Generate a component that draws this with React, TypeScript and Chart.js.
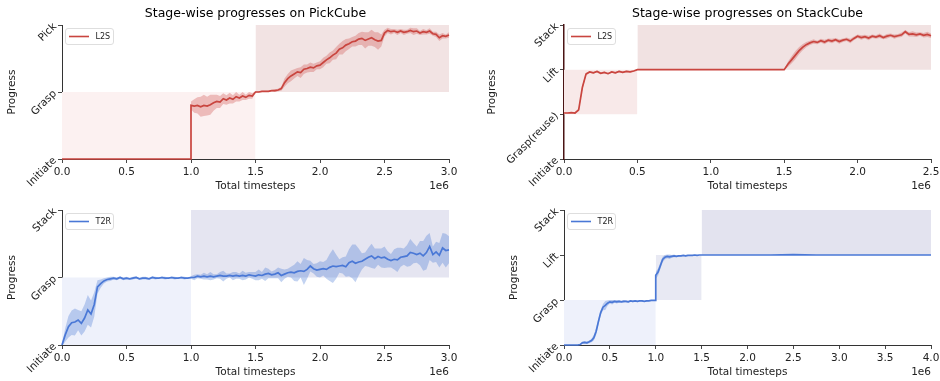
import { useEffect, useRef } from 'react';
import { Chart, registerables } from 'chart.js';

Chart.register(...registerables);

// ---------------- data (x in units of 1e6 timesteps) ----------------
const pickL2SStages = ['Initiate', 'Grasp', 'Pick'];
const stackL2SStages = ['Initiate', 'Grasp(reuse)', 'Lift', 'Stack'];
const pickT2RStages = ['Initiate', 'Grasp', 'Stack'];
const stackT2RStages = ['Initiate', 'Grasp', 'Lift', 'Stack'];

// stage regions: [xStart, xEnd, yLow, yHigh]
const pickL2SRegions = [[0, 1.5, 0, 1], [1.5, 3.0, 1, 2]];
const stackL2SRegions = [[0, 0.5, 1, 2], [0.5, 2.5, 2, 3]];
const pickT2RRegions = [[0, 1.0, 0, 1], [1.0, 3.0, 1, 2]];
const stackT2RRegions = [[0, 1.0, 0, 1], [1.0, 1.5, 1, 2], [1.5, 4.0, 2, 3]];

// PickCube / L2S
const pickL2SIdle = [0, 0]; // start 0, step 1.0
const pickL2SMean = [ // start 1.0, step 0.025
  0.80, 0.79, 0.80, 0.78, 0.80, 0.79, 0.81, 0.84, 0.86, 0.85,
  0.90, 0.88, 0.91, 0.89, 0.93, 0.91, 0.94, 0.92, 0.95, 0.94,
  1.00, 1.00, 1.01, 1.01, 1.01, 1.02, 1.02, 1.03, 1.05, 1.14,
  1.20, 1.24, 1.27, 1.30, 1.29, 1.34, 1.35, 1.37, 1.36, 1.39,
  1.40, 1.44, 1.48, 1.51, 1.55, 1.58, 1.64, 1.66, 1.70, 1.72,
  1.75, 1.76, 1.79, 1.80, 1.77, 1.79, 1.81, 1.78, 1.76, 1.77,
  1.88, 1.92, 1.90, 1.91, 1.89, 1.91, 1.89, 1.90, 1.92, 1.90,
  1.91, 1.88, 1.90, 1.89, 1.91, 1.87, 1.86, 1.81, 1.84, 1.83,
  1.85,
];
const pickL2SSpread = [
  0.06, 0.10, 0.12, 0.15, 0.16, 0.14, 0.15, 0.12, 0.10, 0.09,
  0.08, 0.07, 0.08, 0.06, 0.07, 0.05, 0.06, 0.04, 0.05, 0.04,
  0.01, 0.01, 0.01, 0.01, 0.01, 0.01, 0.02, 0.02, 0.03, 0.06,
  0.07, 0.08, 0.07, 0.06, 0.08, 0.07, 0.06, 0.07, 0.06, 0.05,
  0.06, 0.07, 0.06, 0.08, 0.07, 0.09, 0.08, 0.10, 0.09, 0.08,
  0.07, 0.08, 0.09, 0.10, 0.12, 0.10, 0.12, 0.11, 0.13, 0.09,
  0.05, 0.04, 0.04, 0.03, 0.04, 0.03, 0.04, 0.03, 0.04, 0.05,
  0.04, 0.03, 0.04, 0.03, 0.04, 0.03, 0.04, 0.05, 0.04, 0.03,
  0.04,
];

// StackCube / L2S
const stackL2SEarlyMean = [ // start 0, step 0.025
  1.03, 1.03, 1.04, 1.03, 1.10, 1.60, 1.90, 1.95, 1.93, 1.96,
  1.92, 1.94, 1.91, 1.95, 1.93, 1.96, 1.94, 1.96, 1.95, 1.97,
  2.00,
];
const stackL2SEarlySpread = [
  0.01, 0.01, 0.01, 0.01, 0.03, 0.05, 0.03, 0.02, 0.02, 0.02,
  0.02, 0.02, 0.02, 0.02, 0.02, 0.02, 0.02, 0.02, 0.02, 0.01,
  0.00,
];
const stackL2SLateMean = [ // start 1.5, step 0.025
  2.00, 2.12, 2.22, 2.32, 2.42, 2.50, 2.56, 2.60, 2.63, 2.61,
  2.65, 2.62, 2.66, 2.64, 2.67, 2.63, 2.66, 2.68, 2.64, 2.70,
  2.75, 2.72, 2.74, 2.71, 2.75, 2.73, 2.76, 2.72, 2.75, 2.77,
  2.74, 2.76, 2.78, 2.85, 2.79, 2.80, 2.78, 2.80, 2.77, 2.79,
  2.76,
];
const stackL2SLateSpread = [
  0.00, 0.06, 0.08, 0.09, 0.08, 0.07, 0.06, 0.05, 0.05, 0.04,
  0.04, 0.05, 0.04, 0.05, 0.04, 0.05, 0.04, 0.04, 0.05, 0.04,
  0.04, 0.05, 0.04, 0.05, 0.04, 0.04, 0.05, 0.04, 0.05, 0.04,
  0.05, 0.04, 0.05, 0.04, 0.05, 0.06, 0.05, 0.04, 0.05, 0.06,
  0.05,
];

// PickCube / T2R
const pickT2RMean = [ // start 0, step 0.025
  0.00, 0.15, 0.27, 0.33, 0.34, 0.37, 0.32, 0.40, 0.52, 0.46,
  0.60, 0.86, 0.91, 0.95, 0.97, 0.98, 0.99, 0.98, 1.00, 0.98,
  0.99, 0.98, 0.99, 1.00, 0.98, 0.99, 0.99, 0.98, 1.00, 0.99,
  0.99, 1.00, 0.99, 0.99, 1.00, 0.99, 0.99, 1.00, 0.99, 0.99,
  1.00, 1.00, 1.02, 1.01, 1.02, 1.01, 1.02, 1.01, 1.02, 1.03,
  1.02, 1.02, 1.03, 1.02, 1.03, 1.02, 1.03, 1.02, 1.04, 1.03,
  1.02, 1.04, 1.03, 1.05, 1.06, 1.04, 1.05, 1.07, 1.03, 1.05,
  1.07, 1.08, 1.07, 1.09, 1.10, 1.09, 1.12, 1.17, 1.13, 1.11,
  1.12, 1.13, 1.12, 1.15, 1.17, 1.16, 1.17, 1.18, 1.16, 1.22,
  1.24, 1.21, 1.23, 1.24, 1.27, 1.30, 1.32, 1.28, 1.31, 1.29,
  1.30, 1.27, 1.25, 1.27, 1.26, 1.30, 1.31, 1.32, 1.37, 1.36,
  1.34, 1.36, 1.32, 1.37, 1.46, 1.34, 1.38, 1.33, 1.44, 1.40,
  1.41,
];
const pickT2RSpread = [
  0.02, 0.10, 0.16, 0.18, 0.20, 0.15, 0.18, 0.20, 0.22, 0.20,
  0.18, 0.10, 0.06, 0.04, 0.03, 0.03, 0.02, 0.02, 0.02, 0.02,
  0.02, 0.01, 0.02, 0.02, 0.01, 0.02, 0.02, 0.01, 0.02, 0.02,
  0.01, 0.02, 0.02, 0.01, 0.02, 0.02, 0.01, 0.02, 0.02, 0.01,
  0.02, 0.04, 0.03, 0.03, 0.05, 0.04, 0.06, 0.04, 0.03, 0.05,
  0.08, 0.04, 0.03, 0.06, 0.05, 0.04, 0.07, 0.05, 0.04, 0.05,
  0.06, 0.08, 0.05, 0.10, 0.07, 0.05, 0.06, 0.08, 0.10, 0.07,
  0.06, 0.08, 0.12, 0.15, 0.10, 0.20, 0.14, 0.08, 0.07, 0.10,
  0.12, 0.10, 0.14, 0.20, 0.25, 0.18, 0.10, 0.12, 0.15, 0.20,
  0.25, 0.28, 0.20, 0.12, 0.10, 0.14, 0.18, 0.15, 0.12, 0.14,
  0.16, 0.12, 0.10, 0.15, 0.18, 0.14, 0.12, 0.16, 0.20, 0.15,
  0.12, 0.18, 0.22, 0.25, 0.20, 0.12, 0.15, 0.18, 0.22, 0.25,
  0.20,
];

// StackCube / T2R
const stackT2RGraspMean = [ // start 0, step 0.025
  0.00, 0.00, 0.00, 0.00, 0.00, 0.00, 0.00, 0.01, 0.05, 0.06,
  0.05, 0.07, 0.10, 0.16, 0.30, 0.52, 0.72, 0.84, 0.88, 0.93,
  0.96, 0.95, 0.97, 0.96, 0.97, 0.96, 0.97, 0.97, 0.96, 0.98,
  0.97, 0.98, 0.97, 0.98, 0.98, 0.97, 0.98, 0.98, 0.99, 0.99,
  0.99,
];
const stackT2RGraspSpread = [
  0.00, 0.00, 0.00, 0.00, 0.00, 0.00, 0.00, 0.01, 0.03, 0.03,
  0.03, 0.03, 0.04, 0.06, 0.08, 0.08, 0.06, 0.07, 0.10, 0.06,
  0.04, 0.05, 0.03, 0.04, 0.03, 0.02, 0.03, 0.02, 0.02, 0.02,
  0.02, 0.02, 0.02, 0.01, 0.02, 0.01, 0.02, 0.01, 0.01, 0.01,
  0.01,
];
const stackT2RLiftMean = [ // start 1.0, step 0.025
  1.55, 1.62, 1.76, 1.90, 1.95, 1.97, 1.96, 1.97, 1.98, 1.97,
  1.98, 1.98, 1.99, 1.98, 1.99, 1.99, 1.99, 2.00, 1.99, 2.00,
  2.00,
];
const stackT2RLiftSpread = [
  0.08, 0.08, 0.07, 0.06, 0.05, 0.04, 0.05, 0.03, 0.03, 0.02,
  0.02, 0.02, 0.01, 0.02, 0.01, 0.01, 0.01, 0.01, 0.01, 0.00,
  0.00,
];
const stackT2RStackMean = [ // start 1.5, step 0.25
  2.00, 2.00, 2.00, 2.00, 2.01, 2.00, 2.00, 2.00, 2.00, 2.00, 2.00,
];

// ---------------- styles ----------------
const FONT = '"DejaVu Sans", "Liberation Sans", sans-serif';
const RED = '#c9453f';
const RED_BAND = 'rgba(205, 80, 75, 0.33)';
const BLUE = '#4a78d6';
const BLUE_BAND = 'rgba(74, 120, 214, 0.33)';
const AXIS = '#333333';

type Segment = { start: number; step: number; mean: number[]; spread?: number[] };
type PanelCfg = {
  left: number; top: number; width: number; height: number;
  pad: { left: number; right: number; top: number; bottom: number };
  yAxisWidth: number; xAxisHeight: number; yTitlePad: number;
  title?: string; label: string; color: string; bandColor: string;
  xMax: number; stages: string[]; regions: number[][]; regionColors: string[];
  segments: Segment[]; ySpineColor?: string;
};

const panels: PanelCfg[] = [
  {
    left: 0, top: 0, width: 470, height: 195,
    pad: { left: 0, right: 21, top: 25, bottom: 0 }, yAxisWidth: 62, xAxisHeight: 36, yTitlePad: 6,
    title: 'Stage-wise progresses on PickCube', label: 'L2S', color: RED, bandColor: RED_BAND,
    xMax: 3, stages: pickL2SStages, regions: pickL2SRegions, regionColors: ['#fcf1f1', '#f2e3e3'],
    segments: [
      { start: 0, step: 1.0, mean: pickL2SIdle },
      { start: 1.0, step: 0.025, mean: pickL2SMean, spread: pickL2SSpread },
    ],
  },
  {
    left: 470, top: 0, width: 470, height: 195,
    pad: { left: 0, right: 9, top: 25, bottom: 0 }, yAxisWidth: 94, xAxisHeight: 36, yTitlePad: 16,
    title: 'Stage-wise progresses on StackCube', label: 'L2S', color: RED, bandColor: RED_BAND,
    xMax: 2.5, stages: stackL2SStages, regions: stackL2SRegions, regionColors: ['#f8e9e9', '#f1e2e2'],
    segments: [
      { start: 0, step: 0.025, mean: stackL2SEarlyMean, spread: stackL2SEarlySpread },
      { start: 1.5, step: 0.025, mean: stackL2SLateMean, spread: stackL2SLateSpread },
    ],
    ySpineColor: '#4a1414',
  },
  {
    left: 0, top: 195, width: 470, height: 186,
    pad: { left: 0, right: 21, top: 15, bottom: 0 }, yAxisWidth: 62, xAxisHeight: 36, yTitlePad: 6,
    label: 'T2R', color: BLUE, bandColor: BLUE_BAND,
    xMax: 3, stages: pickT2RStages, regions: pickT2RRegions, regionColors: ['#eef1fb', '#e5e5f1'],
    segments: [
      { start: 0, step: 0.025, mean: pickT2RMean, spread: pickT2RSpread },
    ],
  },
  {
    left: 470, top: 195, width: 470, height: 186,
    pad: { left: 0, right: 9, top: 15, bottom: 0 }, yAxisWidth: 94, xAxisHeight: 36, yTitlePad: 38,
    label: 'T2R', color: BLUE, bandColor: BLUE_BAND,
    xMax: 4, stages: stackT2RStages, regions: stackT2RRegions, regionColors: ['#eef1fb', '#e8e9f3', '#e3e3ef'],
    segments: [
      { start: 0, step: 0.025, mean: stackT2RGraspMean, spread: stackT2RGraspSpread },
      { start: 1.0, step: 0.025, mean: stackT2RLiftMean, spread: stackT2RLiftSpread },
      { start: 1.5, step: 0.25, mean: stackT2RStackMean },
    ],
  },
];

const decorPlugin = {
  id: 'decor',
  afterDraw(chart: any, _args: any, opts: any) {
    const { ctx, chartArea } = chart;
    ctx.save();
    ctx.fillStyle = '#000';
    if (opts.title) {
      ctx.font = `12.5px ${FONT}`;
      ctx.textAlign = 'center';
      ctx.textBaseline = 'middle';
      ctx.fillText(opts.title, (chartArea.left + chartArea.right) / 2, chartArea.top - 11);
    }
    ctx.font = `10.5px ${FONT}`;
    ctx.textAlign = 'right';
    ctx.textBaseline = 'middle';
    ctx.fillStyle = '#222';
    ctx.fillText('1e6', chartArea.right, chartArea.bottom + 27.5);
    // legend
    const bx = chartArea.left + 3.5;
    const by = chartArea.top + 3.5;
    const bw = 48, bh = 16;
    ctx.beginPath();
    ctx.roundRect(bx, by, bw, bh, 2.5);
    ctx.fillStyle = 'rgba(255,255,255,0.85)';
    ctx.fill();
    ctx.strokeStyle = '#d6d6d6';
    ctx.lineWidth = 0.8;
    ctx.stroke();
    ctx.beginPath();
    ctx.moveTo(bx + 3.5, by + bh / 2);
    ctx.lineTo(bx + 23.5, by + bh / 2);
    ctx.strokeStyle = opts.color;
    ctx.lineWidth = 1.6;
    ctx.stroke();
    ctx.font = `8px ${FONT}`;
    ctx.textAlign = 'left';
    ctx.fillStyle = '#222';
    ctx.fillText(opts.label, bx + 30, by + bh / 2 + 0.5);
    ctx.restore();
  },
};

function buildDatasets(cfg: PanelCfg) {
  const ds: any[] = [];
  const pts: { x: number; y: number }[] = [];
  cfg.segments.forEach((s) => s.mean.forEach((m, i) => pts.push({ x: s.start + s.step * i, y: m })));
  ds.push({
    label: cfg.label, data: pts, borderColor: cfg.color, borderWidth: 1.7,
    pointRadius: 0, fill: false, tension: 0, order: 0, clip: 3,
  });
  cfg.segments.forEach((s) => {
    if (!s.spread) return;
    const sp = s.spread;
    const lo = s.mean.map((m, i) => ({ x: s.start + s.step * i, y: m - sp[i] }));
    const hi = s.mean.map((m, i) => ({ x: s.start + s.step * i, y: m + sp[i] }));
    ds.push({ data: lo, borderWidth: 0, borderColor: 'transparent', pointRadius: 0, fill: false, order: 1 });
    ds.push({ data: hi, borderWidth: 0, borderColor: 'transparent', pointRadius: 0, fill: '-1', backgroundColor: cfg.bandColor, order: 1 });
  });
  cfg.regions.forEach((r, k) => {
    ds.push({
      data: [{ x: r[0], y: r[3] }, { x: r[1], y: r[3] }],
      fill: { value: r[2] }, backgroundColor: cfg.regionColors[k],
      borderWidth: 0, borderColor: 'transparent', pointRadius: 0, order: 2,
    });
  });
  return ds;
}

function Panel({ cfg }: { cfg: PanelCfg }) {
  const ref = useRef<HTMLCanvasElement>(null);
  useEffect(() => {
    if (!ref.current) return;
    const chart = new Chart(ref.current, {
      type: 'line',
      data: { datasets: buildDatasets(cfg) },
      plugins: [decorPlugin],
      options: {
        responsive: false,
        animation: false,
        devicePixelRatio: 1,
        layout: { padding: cfg.pad },
        plugins: {
          legend: { display: false },
          tooltip: { enabled: false },
          decor: { title: cfg.title, label: cfg.label, color: cfg.color },
        } as any,
        scales: {
          x: {
            type: 'linear', min: 0, max: cfg.xMax,
            ticks: {
              stepSize: 0.5, padding: 3, color: '#222',
              font: { family: FONT, size: 10.5 },
              callback: (v: any) => Number(v).toFixed(1),
            },
            grid: { display: true, drawOnChartArea: false, drawTicks: true, tickLength: 4, color: AXIS, lineWidth: 0.9 },
            border: { display: true, color: AXIS, width: 1 },
            title: { display: true, text: 'Total timesteps', color: '#222', font: { family: FONT, size: 10.5 }, padding: { top: 0, bottom: 2 } },
            afterFit: (s: any) => { s.height = cfg.xAxisHeight; s.paddingLeft = 0; s.paddingRight = 0; },
          },
          y: {
            type: 'linear', min: 0, max: cfg.stages.length - 1,
            ticks: {
              stepSize: 1, padding: 3, color: '#222', minRotation: 45, maxRotation: 45,
              font: { family: FONT, size: 10.5 },
              callback: (v: any) => cfg.stages[Math.round(Number(v))] ?? '',
            },
            grid: { display: true, drawOnChartArea: false, drawTicks: true, tickLength: 4, color: AXIS, lineWidth: 0.9 },
            border: { display: true, color: cfg.ySpineColor ?? AXIS, width: cfg.ySpineColor ? 1.5 : 1 },
            title: { display: true, text: 'Progress', color: '#222', font: { family: FONT, size: 10.5 }, padding: { top: cfg.yTitlePad, bottom: 0 } },
            afterFit: (s: any) => { s.width = cfg.yAxisWidth; s.paddingTop = 0; s.paddingBottom = 0; },
          },
        },
      } as any,
    });
    return () => chart.destroy();
  }, [cfg]);
  return (
    <canvas
      ref={ref}
      width={cfg.width}
      height={cfg.height}
      style={{ position: 'absolute', left: cfg.left, top: cfg.top, width: cfg.width, height: cfg.height }}
    />
  );
}

export default function App() {
  return (
    <div style={{ position: 'absolute', left: 0, top: 0, width: 940, height: 381, background: '#fff' }}>
      {panels.map((p, i) => (
        <Panel key={i} cfg={p} />
      ))}
    </div>
  );
}
